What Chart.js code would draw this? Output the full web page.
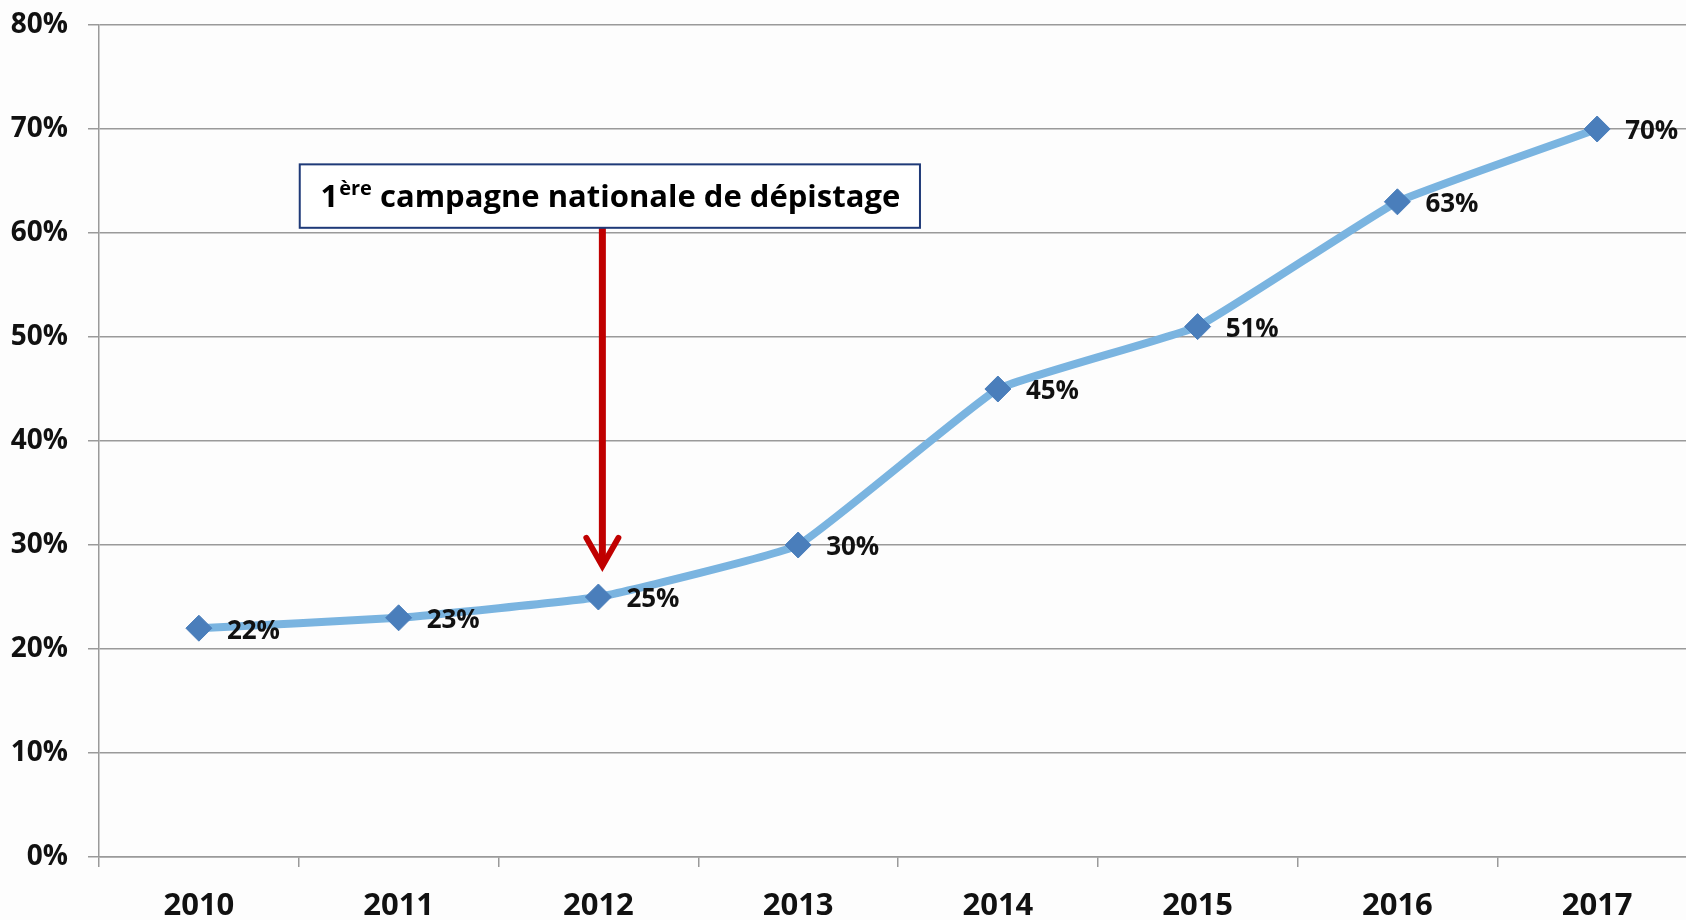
<!DOCTYPE html>
<html>
<head>
<meta charset="utf-8">
<script src="https://cdn.jsdelivr.net/npm/chart.js@4.4.0/dist/chart.umd.min.js"></script>
<style>
  html, body { margin: 0; padding: 0; overflow: hidden; background: #fdfdfd; }
  #wrap { width: 1700px; height: 920px; }
</style>
</head>
<body>
<div id="wrap"><canvas id="myChart" width="1700" height="920"></canvas></div>
<script>
  // values
  var years = ["2010", "2011", "2012", "2013", "2014", "2015", "2016", "2017"];
  var rates = [22, 23, 25, 30, 45, 51, 63, 70];
  var yTicks = [0, 10, 20, 30, 40, 50, 60, 70, 80];

  // annotation, in data units (category index / percent)
  var noteText = "campagne nationale de dépistage";
  var noteBox = { x0: 0.505, x1: 3.61, yTop: 66.6, yBottom: 60.5 };
  var arrow = { x: 2.02, from: 60.5, to: 27.8 };

  var FONT = "'Open Sans', 'DejaVu Sans', sans-serif";

  var pointLabels = {
    id: "pointLabels",
    afterDatasetsDraw: function(chart) {
      var ctx = chart.ctx;
      var meta = chart.getDatasetMeta(0);
      ctx.save();
      ctx.font = "bold 26px " + FONT;
      ctx.fillStyle = "#111";
      ctx.textAlign = "left";
      ctx.textBaseline = "middle";
      meta.data.forEach(function(pt, i) {
        ctx.fillText(rates[i] + "%", pt.x + 28, pt.y + 3);
      });
      ctx.restore();
    }
  };

  var note = {
    id: "note",
    afterDraw: function(chart) {
      var ctx = chart.ctx;
      var xs = chart.scales.x, ys = chart.scales.y;
      ctx.save();

      // red arrow
      var ax = xs.getPixelForValue(arrow.x);
      var a0 = ys.getPixelForValue(arrow.from);
      var a1 = ys.getPixelForValue(arrow.to);
      ctx.strokeStyle = "#c00000";
      ctx.lineWidth = 7;
      ctx.lineCap = "butt";
      ctx.beginPath();
      ctx.moveTo(ax, a0);
      ctx.lineTo(ax, a1 - 4);
      ctx.stroke();
      ctx.lineWidth = 6;
      ctx.lineCap = "round";
      ctx.lineJoin = "miter";
      ctx.beginPath();
      ctx.moveTo(ax - 16, a1 - 30);
      ctx.lineTo(ax, a1 - 2);
      ctx.lineTo(ax + 16, a1 - 30);
      ctx.stroke();

      // box
      var bx0 = xs.getPixelForValue(noteBox.x0);
      var bx1 = xs.getPixelForValue(noteBox.x1);
      var by0 = ys.getPixelForValue(noteBox.yTop);
      var by1 = ys.getPixelForValue(noteBox.yBottom);
      ctx.fillStyle = "#ffffff";
      ctx.fillRect(bx0, by0, bx1 - bx0, by1 - by0);
      ctx.strokeStyle = "#1f3a78";
      ctx.lineWidth = 2;
      ctx.strokeRect(bx0, by0, bx1 - bx0, by1 - by0);

      // text: 1 + superscript + rest
      var base = by0 + (by1 - by0) / 2 + 11;
      ctx.fillStyle = "#000";
      ctx.textBaseline = "alphabetic";
      ctx.textAlign = "left";
      ctx.font = "bold 31px " + FONT;
      var w1 = ctx.measureText("1").width;
      ctx.font = "bold 20px " + FONT;
      var wSup = ctx.measureText("ère").width;
      ctx.font = "bold 31px " + FONT;
      var wRest = ctx.measureText(" " + noteText).width;
      var tx = bx0 + ((bx1 - bx0) - (w1 + wSup + wRest)) / 2;
      ctx.fillText("1", tx, base);
      ctx.font = "bold 20px " + FONT;
      ctx.fillText("ère", tx + w1 + 1, base - 12);
      ctx.font = "bold 31px " + FONT;
      ctx.fillText(" " + noteText, tx + w1 + wSup + 1, base);
      ctx.restore();
    }
  };

  var ctx = document.getElementById("myChart").getContext("2d");
  var chart = new Chart(ctx, {
    type: "line",
    data: {
      labels: years,
      datasets: [{
        data: rates,
        borderColor: "#7ab4e0",
        borderWidth: 8,
        tension: 0.1,
        pointStyle: "rectRot",
        pointRadius: 13,
        pointHoverRadius: 13,
        pointBackgroundColor: "#4a7ebb",
        pointBorderColor: "#4a7ebb",
        pointBorderWidth: 1
      }]
    },
    options: {
      responsive: false,
      animation: false,
      devicePixelRatio: 1,
      layout: { autoPadding: false, padding: { left: 0, top: 25, right: 3, bottom: 0 } },
      plugins: {
        legend: { display: false },
        tooltip: { enabled: false }
      },
      scales: {
        x: {
          offset: true,
          grid: {
            offset: true,
            drawOnChartArea: false,
            drawTicks: true,
            tickLength: 10,
            color: "#9a9a9a",
            lineWidth: 1.5
          },
          border: { display: true, color: "#9a9a9a", width: 1.5 },
          ticks: {
            color: "#111",
            padding: 21,
            maxRotation: 0,
            font: { family: FONT, size: 31, weight: "bold" }
          },
          afterFit: function(scale) {
            scale.height = 63;
            scale.paddingLeft = 0;
            scale.paddingRight = 0;
          }
        },
        y: {
          min: 0,
          max: 80,
          afterBuildTicks: function(scale) {
            scale.ticks = yTicks.map(function(v) { return { value: v }; });
          },
          grid: {
            color: "#9a9a9a",
            lineWidth: 1.5,
            tickLength: 11
          },
          border: { display: true, color: "#9a9a9a", width: 1.5 },
          ticks: {
            color: "#111",
            padding: 20,
            font: { family: FONT, size: 28, weight: "bold" },
            callback: function(v) { return v + "%"; }
          },
          afterFit: function(scale) {
            scale.width = 99;
            scale.paddingTop = 0;
            scale.paddingBottom = 0;
          }
        }
      }
    },
    plugins: [pointLabels, note]
  });
</script>
</body>
</html>
